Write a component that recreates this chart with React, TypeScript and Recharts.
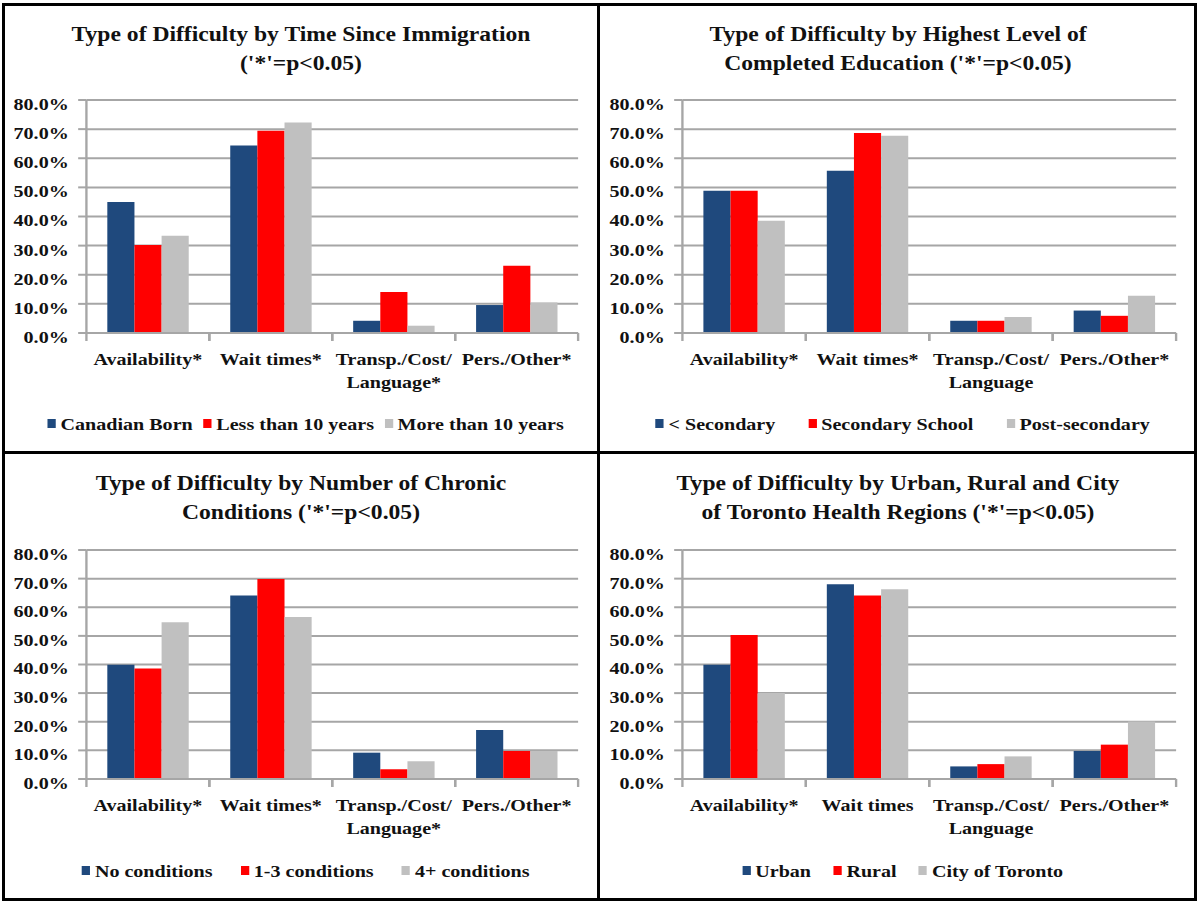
import { Bar, BarChart, CartesianGrid, XAxis, YAxis } from 'recharts'

// the source image is stretched horizontally; we draw unstretched and scale the panel
const STRETCH = 1.18
const FONT = '"Liberation Serif", "Times New Roman", serif'
const GRID = '#a6a6a6'
const COLORS = ['#1f497d', '#ff0000', '#c0c0c0']

const yTicks = [0, 10, 20, 30, 40, 50, 60, 70, 80]

const catsImmigration = ['Availability*', 'Wait times*', 'Transp./Cost/\nLanguage*', 'Pers./Other*']
const catsEducation = ['Availability*', 'Wait times*', 'Transp./Cost/\nLanguage', 'Pers./Other*']
const catsChronic = ['Availability*', 'Wait times*', 'Transp./Cost/\nLanguage*', 'Pers./Other*']
const catsRegion = ['Availability*', 'Wait times', 'Transp./Cost/\nLanguage', 'Pers./Other*']

// time since immigration
const immigrationNames = ['Canadian Born', 'Less than 10 years', 'More than 10 years']
const canadianBorn = [45.0, 64.4, 4.2, 9.6]
const lessThan10 = [30.2, 69.4, 14.1, 23.1]
const moreThan10 = [33.4, 72.3, 2.5, 10.5]

// highest level of completed education
const educationNames = ['< Secondary', 'Secondary School', 'Post-secondary']
const lessSecondary = [48.8, 55.7, 4.2, 7.7]
const secondarySchool = [48.8, 68.7, 4.2, 5.9]
const postSecondary = [38.5, 67.7, 5.5, 12.8]

// number of chronic conditions
const chronicNames = ['No conditions', '1-3 conditions', '4+ conditions']
const noConditions = [39.9, 64.1, 9.2, 17.1]
const oneToThree = [38.6, 69.9, 3.4, 9.8]
const fourPlus = [54.8, 56.6, 6.2, 9.8]

// urban / rural / toronto
const regionNames = ['Urban', 'Rural', 'City of Toronto']
const urban = [39.9, 68.0, 4.4, 9.8]
const rural = [50.3, 64.1, 5.2, 12.0]
const cityOfToronto = [30.0, 66.3, 7.9, 20.1]

function buildRows(cats: string[], series: number[][]) {
  return cats.map((c, i) => ({ cat: c, s0: series[0][i], s1: series[1][i], s2: series[2][i] }))
}

function PercentTick({ x, y, payload }: any) {
  return (
    <text x={x} y={y + 4} dy="0.35em" textAnchor="end" fontSize={17} fontWeight="bold" fill="#111" fontFamily={FONT}>
      {Number(payload.value).toFixed(1)}%
    </text>
  )
}

function CategoryTick({ x, y, payload }: any) {
  const half = payload?.offset || 52
  const lines = String(payload.value).split('\n')
  return (
    <g>
      <line x1={x - half} x2={x - half} y1={y} y2={y + 8} stroke={GRID} strokeWidth={2} />
      <line x1={x + half} x2={x + half} y1={y} y2={y + 8} stroke={GRID} strokeWidth={2} />
      <text x={x} y={y + 26} textAnchor="middle" fontSize={17} fontWeight="bold" fill="#111" fontFamily={FONT}>
        {lines.map((l, i) => (
          <tspan key={i} x={x} dy={i === 0 ? '0.35em' : 23}>
            {l}
          </tspan>
        ))}
      </text>
    </g>
  )
}

function Panel({
  left,
  top,
  pageWidth,
  height,
  plotTop,
  plotHeight,
  legendTop,
  legendGap,
  title,
  cats,
  names,
  series,
}: {
  left: number
  top: number
  pageWidth: number
  height: number
  plotTop: number
  plotHeight: number
  legendTop: number
  legendGap: number
  title: string[]
  cats: string[]
  names: string[]
  series: number[][]
}) {
  const w = pageWidth / STRETCH
  const data = buildRows(cats, series)
  const xAxisH = 30
  const bottom = height - plotTop - plotHeight - xAxisH

  return (
    <div
      style={{
        position: 'absolute',
        left,
        top,
        width: w,
        height,
        transform: `scaleX(${STRETCH})`,
        transformOrigin: '0 0',
        fontFamily: FONT,
      }}
    >
      <div
        style={{
          position: 'absolute',
          top: 15,
          left: 0,
          width: w,
          textAlign: 'center',
          fontSize: 20,
          fontWeight: 'bold',
          lineHeight: '29px',
          color: '#111',
        }}
      >
        {title.map((t) => (
          <div key={t}>{t}</div>
        ))}
      </div>
      <BarChart
        width={w}
        height={height}
        data={data}
        margin={{ top: plotTop, right: 16, bottom, left: 0 }}
        barCategoryGap="17%"
        barGap={0}
      >
        <CartesianGrid vertical={false} stroke={GRID} strokeWidth={2} />
        <XAxis
          dataKey="cat"
          height={xAxisH}
          interval={0}
          tickSize={0}
          tickMargin={0}
          tickLine={false}
          axisLine={{ stroke: GRID, strokeWidth: 2 }}
          tick={<CategoryTick />}
        />
        <YAxis
          width={69}
          domain={[0, 80]}
          ticks={yTicks}
          interval={0}
          tickSize={7}
          tickMargin={8}
          tickLine={{ stroke: GRID, strokeWidth: 2 }}
          axisLine={{ stroke: GRID, strokeWidth: 2 }}
          tick={<PercentTick />}
        />
        {['s0', 's1', 's2'].map((k, i) => (
          <Bar key={k} dataKey={k} name={names[i]} fill={COLORS[i]} isAnimationActive={false} />
        ))}
      </BarChart>
      <div
        style={{
          position: 'absolute',
          top: legendTop,
          left: 0,
          width: w,
          paddingLeft: 8,
          boxSizing: 'border-box',
          display: 'flex',
          justifyContent: 'center',
          alignItems: 'center',
          gap: legendGap,
          fontSize: 17,
          fontWeight: 'bold',
          color: '#111',
          lineHeight: '20px',
        }}
      >
        {names.map((n, i) => (
          <div key={n} style={{ display: 'flex', alignItems: 'center' }}>
            <span
              style={{
                display: 'inline-block',
                width: 7,
                height: 9,
                background: COLORS[i],
                marginRight: 4,
                transform: 'translateY(-2px)',
              }}
            />
            <span>{n}</span>
          </div>
        ))}
      </div>
    </div>
  )
}

export default function App() {
  return (
    <div style={{ position: 'absolute', left: 0, top: 0, width: 1200, height: 905, background: '#fff' }}>
      <Panel
        left={5}
        top={5}
        pageWidth={592}
        height={446}
        plotTop={95}
        plotHeight={233}
        legendTop={410}
        legendGap={9}
        title={['Type of Difficulty by Time Since Immigration', "('*'=p<0.05)"]}
        cats={catsImmigration}
        names={immigrationNames}
        series={[canadianBorn, lessThan10, moreThan10]}
      />
      <Panel
        left={601}
        top={5}
        pageWidth={594}
        height={446}
        plotTop={95}
        plotHeight={233}
        legendTop={410}
        legendGap={28}
        title={['Type of Difficulty by Highest Level of', "Completed Education ('*'=p<0.05)"]}
        cats={catsEducation}
        names={educationNames}
        series={[lessSecondary, secondarySchool, postSecondary]}
      />
      <Panel
        left={5}
        top={454}
        pageWidth={592}
        height={444}
        plotTop={96}
        plotHeight={229}
        legendTop={408}
        legendGap={24}
        title={['Type of Difficulty by Number of Chronic', "Conditions ('*'=p<0.05)"]}
        cats={catsChronic}
        names={chronicNames}
        series={[noConditions, oneToThree, fourPlus]}
      />
      <Panel
        left={601}
        top={454}
        pageWidth={594}
        height={444}
        plotTop={96}
        plotHeight={229}
        legendTop={408}
        legendGap={19}
        title={['Type of Difficulty by Urban, Rural and City', "of Toronto Health Regions ('*'=p<0.05)"]}
        cats={catsRegion}
        names={regionNames}
        series={[urban, rural, cityOfToronto]}
      />
      {/* frame and dividers */}
      <div
        style={{
          position: 'absolute',
          left: 2,
          top: 3,
          width: 1195,
          height: 898,
          border: '3px solid #000',
          boxSizing: 'border-box',
        }}
      />
      <div style={{ position: 'absolute', left: 597, top: 3, width: 3, height: 898, background: '#000' }} />
      <div style={{ position: 'absolute', left: 2, top: 451, width: 1195, height: 3, background: '#000' }} />
    </div>
  )
}
